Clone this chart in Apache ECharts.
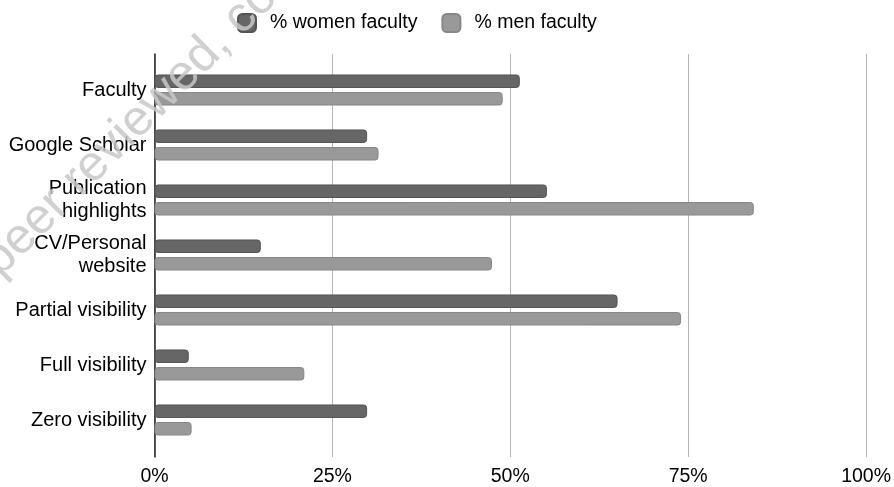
<!DOCTYPE html>
<html>
<head>
<meta charset="utf-8">
<script src="https://cdn.jsdelivr.net/npm/echarts@6/dist/echarts.min.js"></script>
<style>
  html, body { margin: 0; padding: 0; background: #fff; }
  #chart { width: 894px; height: 487px; }
</style>
</head>
<body>
<div id="chart"></div>
<script>
// Share of faculty with each kind of online visibility, by gender
const categories = [
  'Faculty',
  'Google Scholar',
  'Publication\nhighlights',
  'CV/Personal\nwebsite',
  'Partial visibility',
  'Full visibility',
  'Zero visibility'
];
const womenFaculty = [51.2, 29.8, 55.0, 14.9, 64.9, 4.8, 29.8];
const menFaculty   = [48.8, 31.4, 84.0, 47.3, 73.8, 21.0, 5.2];
const seriesNames = ['% women faculty', '% men faculty'];
const xTicks = [0, 25, 50, 75, 100];

const FONT = '"Liberation Sans", Arial, sans-serif';
const chart = echarts.init(document.getElementById('chart'), null, { renderer: 'canvas' });

const barStyle = (fill, edge) => ({
  color: fill,
  borderColor: edge,
  borderWidth: 1,
  borderRadius: 3
});

chart.setOption({
  backgroundColor: '#ffffff',
  animation: false,
  legend: {
    top: 13,
    left: 237,
    padding: 0,
    itemWidth: 18,
    itemHeight: 18,
    itemGap: 24,
    icon: 'roundRect',
    textStyle: { fontFamily: FONT, fontSize: 19.5, color: '#000', padding: [0, 0, 0, 9] },
    data: seriesNames
  },
  grid: [
    // bars
    { left: 154.5, right: 26, top: 62.5, bottom: 39.5, containLabel: false },
    // axis frame with gridlines
    { left: 154.5, right: 26, top: 54, bottom: 29, containLabel: false }
  ],
  xAxis: [
    { gridIndex: 0, type: 'value', min: 0, max: 100, show: false },
    {
      gridIndex: 1, type: 'value', min: xTicks[0], max: xTicks[xTicks.length - 1],
      interval: xTicks[1] - xTicks[0],
      axisLine: { show: false },
      axisTick: { show: false },
      axisLabel: { formatter: '{value}%', fontFamily: FONT, fontSize: 19.5, color: '#000', margin: 10 },
      splitLine: { show: true, lineStyle: { color: '#b4b4b4', width: 1 } }
    }
  ],
  yAxis: [
    {
      gridIndex: 0, type: 'category', data: categories, inverse: true,
      axisLine: { show: false },
      axisTick: { show: false },
      axisLabel: { fontFamily: FONT, fontSize: 20, color: '#000', margin: 8, lineHeight: 23, align: 'right' }
    },
    {
      gridIndex: 1, type: 'value', min: 0, max: 1,
      axisLine: { show: true, lineStyle: { color: '#222', width: 1.5 } },
      axisTick: { show: false },
      axisLabel: { show: false },
      splitLine: { show: false }
    }
  ],
  series: [
    {
      name: seriesNames[0], type: 'bar', xAxisIndex: 0, yAxisIndex: 0,
      data: womenFaculty, barWidth: 13.5, barGap: '30%',
      itemStyle: barStyle('#666666', '#545454')
    },
    {
      name: seriesNames[1], type: 'bar', xAxisIndex: 0, yAxisIndex: 0,
      data: menFaculty, barWidth: 13.5, barGap: '30%',
      itemStyle: barStyle('#999999', '#878787')
    }
  ],
  graphic: [
    {
      type: 'text',
      x: 8, y: 286,
      rotation: 45 * Math.PI / 180,
      z: 100,
      silent: true,
      style: {
        text: 'peer reviewed, co',
        font: '50px "Liberation Sans", Arial, sans-serif',
        fill: '#c8c8c8',
        opacity: 0.85,
        textAlign: 'left',
        textVerticalAlign: 'bottom'
      }
    }
  ]
});
</script>
</body>
</html>
